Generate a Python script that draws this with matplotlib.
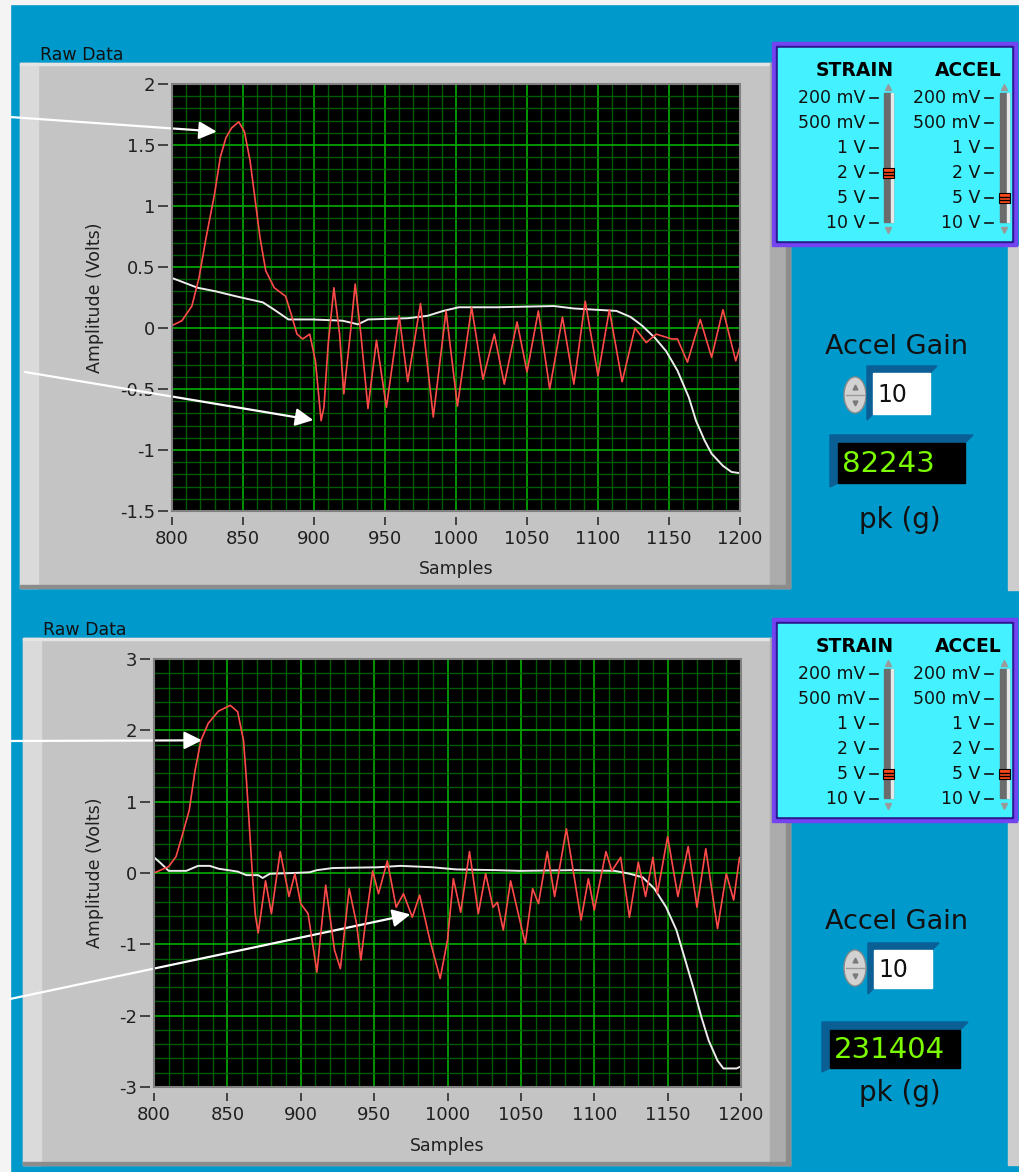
import numpy as np
import matplotlib.pyplot as plt
from matplotlib.patches import Rectangle, Polygon, Ellipse

plt.rcParams['font.family'] = ['DejaVu Sans']

W, H = 1019, 1172

# ---- upper capture ----
top_accel_x = [800, 807, 814, 819, 824, 830, 834, 838, 842, 847, 851, 855, 859, 862, 866,
               872, 880, 884, 888, 892, 897, 901, 905, 907, 910, 914, 918, 921, 926, 929,
               933, 938, 944, 951, 960, 966, 975, 984, 993, 1001, 1011, 1019, 1027, 1034,
               1043, 1050, 1058, 1066, 1075, 1083, 1091, 1100, 1108, 1117, 1126, 1134,
               1141, 1152, 1156, 1163, 1172, 1180, 1188, 1197, 1200]
top_accel = [0.02, 0.06, 0.18, 0.41, 0.74, 1.10, 1.40, 1.56, 1.64, 1.69, 1.61, 1.37, 1.01, 0.74, 0.47,
             0.33, 0.26, 0.11, -0.05, -0.09, -0.05, -0.27, -0.76, -0.65, -0.13, 0.33, -0.05, -0.54, 0.0, 0.36,
             -0.05, -0.66, -0.10, -0.65, 0.10, -0.44, 0.20, -0.73, 0.14, -0.64, 0.17, -0.42, -0.05, -0.46,
             0.05, -0.36, 0.14, -0.50, 0.09, -0.46, 0.22, -0.39, 0.15, -0.44, 0.0, -0.12,
             -0.05, -0.09, -0.09, -0.28, 0.07, -0.24, 0.15, -0.27, -0.15]
top_strain_x = [800, 818, 831, 845, 864, 872, 882, 899, 920, 931, 938, 966, 980, 991, 1002, 1029,
                1069, 1083, 1113, 1123, 1131, 1140, 1148, 1156, 1164, 1169, 1175, 1180, 1188, 1194, 1200]
top_strain = [0.41, 0.33, 0.30, 0.26, 0.21, 0.15, 0.07, 0.07, 0.06, 0.03, 0.07, 0.08, 0.10, 0.14, 0.17, 0.17,
              0.18, 0.16, 0.14, 0.09, 0.02, -0.08, -0.19, -0.35, -0.57, -0.76, -0.92, -1.03, -1.13, -1.18, -1.19]
top_yticks = [2, 1.5, 1, 0.5, 0, -0.5, -1, -1.5]

# ---- lower capture ----
bot_accel_x = [800, 810, 815, 819, 824, 828, 832, 837, 844, 852, 857, 861, 863, 865, 867, 869, 871,
               876, 880, 886, 892, 896, 900, 905, 911, 917, 923, 927, 933, 938, 941, 944, 949, 953,
               959, 965, 970, 976, 981, 988, 995, 1000, 1004, 1009, 1015, 1021, 1026, 1031, 1034,
               1038, 1043, 1053, 1058, 1062, 1068, 1073, 1081, 1086, 1091, 1096, 1100, 1108, 1112,
               1118, 1124, 1130, 1135, 1140, 1143, 1150, 1157, 1164, 1170, 1176, 1184, 1190, 1195,
               1199, 1200]
bot_accel = [0.0, 0.09, 0.23, 0.51, 0.88, 1.44, 1.86, 2.10, 2.27, 2.35, 2.26, 1.86, 1.30, 0.65, -0.01, -0.58, -0.84,
             -0.11, -0.57, 0.30, -0.33, -0.01, -0.43, -0.57, -1.39, -0.17, -1.08, -1.34, -0.22, -0.71, -1.22, -0.71, 0.03, -0.29,
             0.17, -0.48, -0.29, -0.62, -0.31, -0.94, -1.48, -0.94, -0.08, -0.55, 0.30, -0.57, -0.01, -0.48, -0.41,
             -0.80, -0.11, -0.99, -0.22, -0.43, 0.30, -0.33, 0.62, -0.01, -0.66, -0.08, -0.52, 0.30, 0.03,
             0.22, -0.62, 0.15, -0.33, 0.22, -0.29, 0.51, -0.33, 0.37, -0.48, 0.34, -0.78, -0.01, -0.38,
             0.22, 0.13]
bot_strain_x = [800, 805, 810, 822, 830, 838, 844, 857, 863, 871, 874, 879, 895, 906, 911, 922, 952, 968,
                990, 1006, 1033, 1049, 1087, 1114, 1124, 1133, 1141, 1149, 1156, 1162, 1168, 1173, 1178,
                1184, 1188, 1197, 1200]
bot_strain = [0.22, 0.13, 0.03, 0.03, 0.10, 0.10, 0.06, 0.02, -0.03, -0.03, -0.07, -0.01, 0.0, 0.01, 0.04, 0.07, 0.08, 0.10,
              0.08, 0.05, 0.04, 0.03, 0.04, 0.03, -0.01, -0.06, -0.22, -0.48, -0.80, -1.22, -1.64, -2.02, -2.35,
              -2.63, -2.74, -2.74, -2.71]
bot_yticks = [3, 2, 1, 0, -1, -2, -3]

x_ticks = [800, 850, 900, 950, 1000, 1050, 1100, 1150, 1200]
ranges = ['200 mV', '500 mV', '1 V', '2 V', '5 V', '10 V']
top_setting = ('2 V', '5 V')     # strain, accel
bot_setting = ('5 V', '5 V')
accel_gain = [10, 10]
peak_g = [82243, 231404]

BLUE = '#0099cc'
GRAY = '#c4c4c4'

fig = plt.figure(figsize=(W / 100, H / 100), dpi=100)
bg = fig.add_axes([0, 0, 1, 1])
bg.set_xlim(0, W)
bg.set_ylim(H, 0)
bg.axis('off')


def box(x0, y0, x1, y1, **kw):
    bg.add_patch(Rectangle((x0, y0), x1 - x0, y1 - y0, **kw))


def px_rect(x0, y0, x1, y1):
    return [x0 / W, 1 - y1 / H, (x1 - x0) / W, (y1 - y0) / H]


box(0, 0, W, H, color=BLUE)
box(0, 0, 10, H, color='#f4f4f4')
box(0, 0, W, 4, color='#f4f4f4')


def frame(x0, y0, x1, y1, title):
    box(x0, y0, x1, y1, color=GRAY)
    box(x0, y0, x0 + 18, y1, color='#dadada')
    box(x0, y0, x1, y0 + 2, color='#e4e4e4')
    box(x1 - 20, y0, x1, y1, color='#acacac')
    box(x1 - 4, y0, x1, y1, color='#8c8c8c')
    box(x0, y1 - 3, x1, y1, color='#8c8c8c')
    bg.text(x0 + 20, y0 - 8, title, fontsize=12.5, ha='left', va='center', color='#111111')


frame(20, 63, 790, 588, 'Raw Data')
frame(23, 638, 790, 1165, 'Raw Data')
box(1008, 246, W, 590, color='#cdcdcd')
box(1008, 821, W, 1165, color='#cdcdcd')


def chart(rect, ylim, yticks, yminor_step, ax_x, ax_y, sx, sy, ylab_x, arrows):
    ax = fig.add_axes(px_rect(*rect))
    ax.set_facecolor('black')
    ax.plot(sx, sy, color='#ececec', lw=1.4, zorder=3, solid_joinstyle='round')
    ax.plot(ax_x, ax_y, color='#ff4a4a', lw=1.2, zorder=4, solid_joinstyle='round')
    ax.set_xlim(800, 1200)
    ax.set_ylim(*ylim)
    ax.set_xticks(x_ticks)
    ax.set_xticklabels([str(t) for t in x_ticks])
    ax.set_xticks(np.arange(800, 1201, 10), minor=True)
    ax.set_yticks(yticks)
    ax.set_yticklabels([f'{t:g}' for t in yticks])
    ax.set_yticks(np.arange(ylim[0], ylim[1] + 1e-9, yminor_step), minor=True)
    ax.grid(which='minor', color='#005a00', lw=1.0)
    ax.grid(which='major', color='#00a000', lw=1.3)
    ax.set_axisbelow(True)
    for side in ('top', 'right', 'left', 'bottom'):
        ax.spines[side].set_visible(False)
    ax.spines['left'].set_position(('outward', 3))
    ax.spines['bottom'].set_position(('outward', 4))
    ax.tick_params(which='minor', length=0)
    ax.tick_params(axis='y', which='major', direction='out', length=7, width=1.1,
                   color='#202020', labelsize=13, pad=2, labelcolor='#202020')
    ax.tick_params(axis='x', which='major', direction='out', length=6, width=1.1,
                   color='#202020', labelsize=13, pad=4, labelcolor='#202020')
    ax.add_patch(Rectangle((0, 0), 1, 1, transform=ax.transAxes, fill=False,
                           ec='#808080', lw=1.5, clip_on=False, zorder=6))
    ax.set_ylabel('Amplitude (Volts)', fontsize=12.5, color='#202020', va='center')
    ax.yaxis.set_label_coords(ylab_x, 0.5)
    ax.set_xlabel('Samples', fontsize=12.5, color='#202020', va='center')
    ax.xaxis.set_label_coords(0.5, -0.137)
    for tip, tail in arrows:
        ax.annotate('', xy=tip, xycoords='data', xytext=(tail[0], H - tail[1]),
                    textcoords='figure pixels', annotation_clip=False,
                    arrowprops=dict(arrowstyle='-|>,head_length=0.9,head_width=0.45',
                                    mutation_scale=12, color='white', lw=1.6,
                                    shrinkA=0, shrinkB=0))
    return ax


chart((172, 84, 740, 511), (-1.5, 2), top_yticks, 0.1,
      top_accel_x, top_accel, top_strain_x, top_strain, -0.135,
      [((831.5, 1.61), (10, 117)), ((899.5, -0.755), (25, 372))])
chart((154, 659, 741, 1087), (-3, 3), bot_yticks, 0.2,
      bot_accel_x, bot_accel, bot_strain_x, bot_strain, -0.10,
      [((832.7, 1.86), (10, 741)), ((974.7, -0.58), (10, 999))])


def slider(x, y0, setting):
    box(x, y0 + 51, x + 9, y0 + 180, color='#6b6b6b')
    box(x + 7, y0 + 51, x + 9, y0 + 180, color='#e8e8e8')
    bg.plot([x + 4.5], [y0 + 45], marker='^', ms=4, color='#9a9a9a')
    bg.plot([x + 4.5], [y0 + 188], marker='v', ms=4, color='#9a9a9a')
    ty = y0 + 56 + ranges.index(setting) * 25
    box(x - 1, ty - 5, x + 10, ty + 5, fc='#ff4a1a', ec='black', lw=0.8)
    bg.plot([x, x + 9], [ty - 1.5, ty - 1.5], color='black', lw=1)
    bg.plot([x, x + 9], [ty + 1.5, ty + 1.5], color='black', lw=1)


def range_box(y0, setting):
    box(772, y0, 1017, y0 + 204, color='#7444f0')
    box(776, y0 + 4, 1013, y0 + 200, color='#2a1a90')
    box(778, y0 + 6, 1011, y0 + 198, color='#44f2ff')
    bg.text(855, y0 + 28, 'STRAIN', fontsize=13.5, fontweight='bold', ha='center', va='center')
    bg.text(968, y0 + 28, 'ACCEL', fontsize=13.5, fontweight='bold', ha='center', va='center')
    for i, lab in enumerate(ranges):
        yy = y0 + 56 + i * 25
        bg.text(865, yy, lab, fontsize=12.5, ha='right', va='center', color='#111111')
        bg.plot([870, 878], [yy, yy], color='#111111', lw=1.2)
        bg.text(980, yy, lab, fontsize=12.5, ha='right', va='center', color='#111111')
        bg.plot([985, 993], [yy, yy], color='#111111', lw=1.2)
    slider(884, y0, setting[0])
    slider(1000, y0, setting[1])


range_box(42, top_setting)
range_box(618, bot_setting)


def gain_block(ty, spin_y, bx, by, dx, dy, pk_y, gain, peak):
    bg.text(897, ty, 'Accel Gain', fontsize=19.5, ha='center', va='center', color='#111111')
    bg.add_patch(Ellipse((855, spin_y), 22, 36, fc='#d2d2d2', ec='#8a8a8a', lw=1))
    bg.plot([846, 864], [spin_y, spin_y], color='#9a9a9a', lw=1)
    bg.plot([855], [spin_y - 8], marker='^', ms=3.5, color='#7a7a7a')
    bg.plot([855], [spin_y + 8], marker='v', ms=3.5, color='#7a7a7a')
    x0, x1 = bx
    y0, y1 = by
    bg.add_patch(Polygon([(x0 - 6, y1 + 6), (x0 - 6, y0 - 7), (x1 + 7, y0 - 7), (x1, y0),
                          (x0, y0), (x0, y1)], closed=True, color='#0a5f95'))
    box(x0, y0, x1, y1, color='white')
    bg.text(x0 + 4, (y0 + y1) / 2 + 1, str(gain), fontsize=17, ha='left', va='center', color='#111111')
    d0, d1 = dx
    e0, e1 = dy
    bg.add_patch(Polygon([(d0 - 8, e1 + 4), (d0 - 8, e0 - 8), (d1 + 8, e0 - 8), (d1, e0),
                          (d0, e0), (d0, e1)], closed=True, color='#0a5f95'))
    box(d0, e0, d1, e1, color='black')
    bg.text(d0 + 4, (e0 + e1) / 2 + 1, str(peak), fontsize=21, ha='left', va='center',
            color='#7cfc00')
    bg.text(900, pk_y, 'pk (g)', fontsize=20, ha='center', va='center', color='#111111')


gain_block(347, 395, (873, 930), (373, 414), (838, 965), (443, 483), 520, accel_gain[0], peak_g[0])
gain_block(922, 968, (874, 932), (950, 988), (830, 960), (1030, 1068), 1093, accel_gain[1], peak_g[1])

fig.savefig('out.png', dpi=100)
